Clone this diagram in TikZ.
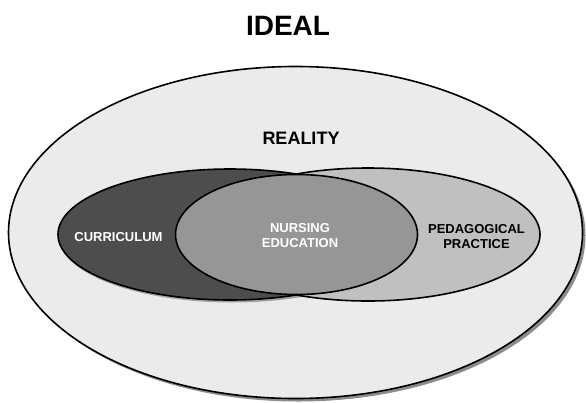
\documentclass[tikz,border=0pt]{standalone}
\usepackage{fontspec}
\setmainfont{Liberation Sans}
\definecolor{outerfill}{HTML}{EBEBEB}
\definecolor{curfill}{HTML}{4D4D4D}
\definecolor{pedfill}{HTML}{C0C0C0}
\definecolor{nurfill}{HTML}{969696}
\definecolor{shadowc}{HTML}{8C8C8C}
\tikzset{
  outline/.style={draw=black, line width=1.6pt},
  lbl/.style={font=\bfseries\fontsize{13}{15}\selectfont, align=center, inner sep=0pt},
}
\begin{document}
\begin{tikzpicture}[x=1pt,y=-1pt]
\useasboundingbox (0,0) rectangle (586,402);
% outer ellipse (reality)
\fill[shadowc] (298.5,235.5) ellipse [x radius=287, y radius=166];
\fill[outerfill] (295.5,232.5) ellipse [x radius=287, y radius=166];
\draw[outline] (295.5,232.5) ellipse [x radius=287, y radius=166];
% curriculum & pedagogical practice
\fill[shadowc!80] (232,237) ellipse [x radius=173, y radius=65.5];
\fill[curfill] (230,234.5) ellipse [x radius=172, y radius=65.5];
\fill[pedfill] (368,234.5) ellipse [x radius=172, y radius=66.5];
\draw[outline] (230,234.5) ellipse [x radius=172, y radius=65.5];
\draw[outline] (368,234.5) ellipse [x radius=172, y radius=66.5];
% nursing education
\fill[nurfill] (296.5,234.5) ellipse [x radius=121, y radius=60];
\draw[outline] (296.5,234.5) ellipse [x radius=121, y radius=60];
% texts
\node[font=\bfseries\fontsize{28}{32}\selectfont, inner sep=0pt] (ideal) at (288,26) {IDEAL};
\node[font=\bfseries\fontsize{18}{20}\selectfont, inner sep=0pt] (reality) at (301,138) {REALITY};
\node[lbl, text=white] (cur) at (118.5,237) {CURRICULUM};
\node[lbl, text=white] (nur) at (300,236) {NURSING\\EDUCATION};
\node[lbl, text=black] (ped) at (476.5,237) {PEDAGOGICAL\\PRACTICE};
\end{tikzpicture}
\end{document}
